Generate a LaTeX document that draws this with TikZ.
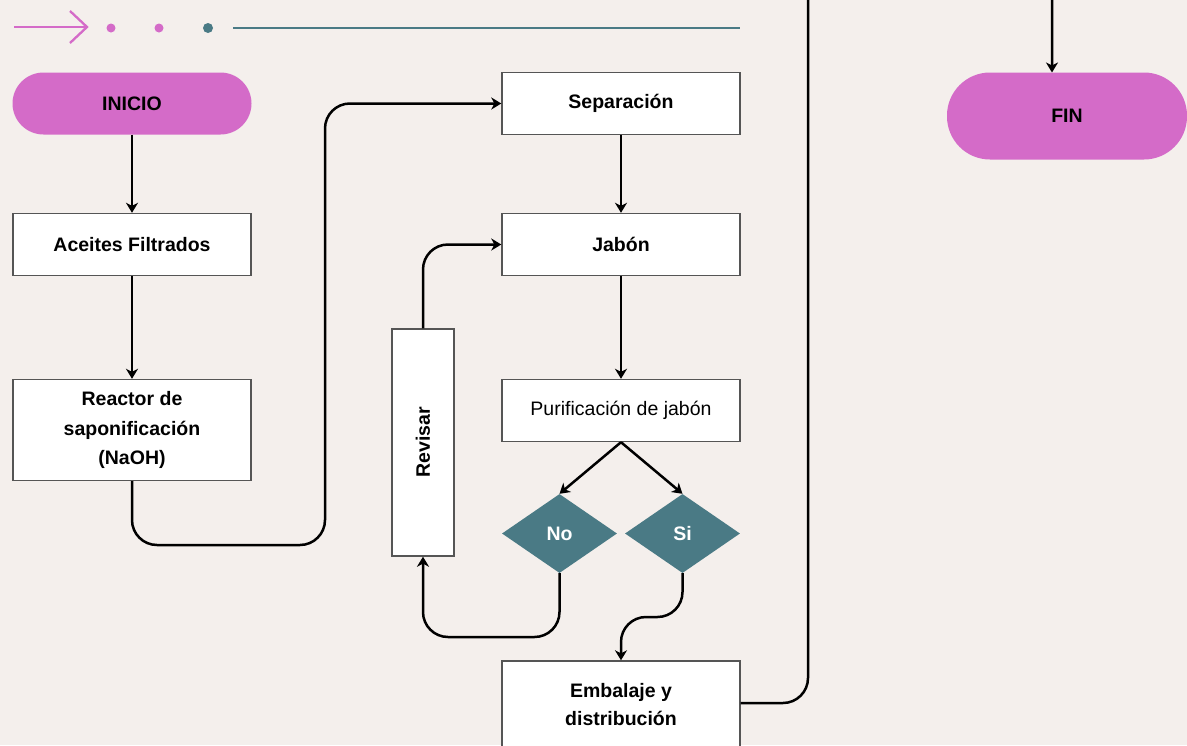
\documentclass[tikz,border=0pt]{standalone}
\usepackage{fontspec}
\setmainfont{Liberation Sans}
\usetikzlibrary{arrows.meta,shapes.geometric}
\definecolor{bg}{HTML}{F4EFEC}
\definecolor{pinkc}{HTML}{D46BC8}
\definecolor{tealc}{HTML}{4A7A85}
\definecolor{edgec}{HTML}{555555}
\tikzset{
  box/.style={draw=edgec, line width=1.4pt, fill=white, minimum width=238pt, minimum height=62pt,
    font=\bfseries\fontsize{19.5}{29.5}\selectfont, align=center, inner sep=0pt},
  pill/.style={fill=pinkc, rounded corners=31pt, minimum width=239pt, minimum height=62pt,
    font=\bfseries\fontsize{19.5}{29}\selectfont, inner sep=0pt},
  dia/.style={diamond, fill=tealc, minimum width=115pt, minimum height=79pt, aspect=1.456, inner sep=0pt,
    text=white, font=\bfseries\fontsize{19.5}{29}\selectfont},
  conn/.style={line width=2.5pt, draw=black, -{Stealth[length=10pt,width=12pt,inset=3pt]}, rounded corners=25pt},
  deco/.style={line width=2.3pt}
}
\begin{document}
\begin{tikzpicture}[x=1pt,y=-1pt]
\useasboundingbox (0,0) rectangle (1187,745);
\fill[bg] (0,0) rectangle (1187,745);
\clip (0,0) rectangle (1187,745);
% decoration
\draw[deco, pinkc] (14,27) -- (87,27);
\draw[deco, pinkc, line join=miter] (70,11) -- (87,27) -- (70,43);
\fill[pinkc] (111,28) circle (4.5);
\fill[pinkc] (159,28) circle (4.5);
\fill[tealc] (208,28) circle (5);
\draw[tealc, line width=2.8pt] (233,28) -- (740,28);
% nodes
\node[pill] (inicio) at (132,103.5) {INICIO};
\node[pill, minimum width=240pt, minimum height=87pt, rounded corners=43pt] (fin) at (1067,116) {FIN};
\node[box] (aceites) at (132,244.5) {Aceites Filtrados};
\node[box, minimum height=101pt] (reactor) at (132,430) {Reactor de\\saponificación\\(NaOH)};
\node[box] (sep) at (621,103.5) {Separación};
\node[box] (jabon) at (621,244.5) {Jabón};
\node[box, font=\fontsize{19.5}{29}\selectfont] (puri) at (621,410.5) {Purificación de jabón};
\node[box, minimum width=62pt, minimum height=227pt] (revisar) at (423,442.5) {};
\node[rotate=90, font=\bfseries\fontsize{19.5}{29}\selectfont] (revtxt) at (revisar.center) {Revisar};
\node[dia] (no) at (559.5,533.5) {No};
\node[dia] (si) at (682.5,533.5) {Si};
\node[box, minimum height=88pt, font=\bfseries\fontsize{19.5}{28}\selectfont] (emb) at (621,705) {Embalaje y\\distribución};
% bend coordinates
\coordinate (a1) at (132,545);
\coordinate (a2) at (325,545);
\coordinate (a3) at (325,103.5);
\coordinate (b1) at (559.5,637);
\coordinate (b2) at (423,637);
\coordinate (c1) at (423,244.5);
\coordinate (d1) at (682.5,617);
\coordinate (d2) at (621,617);
\coordinate (e1) at (808,703);
\coordinate (e2) at (808,-40);
\coordinate (e3) at (1052,-40);
\coordinate (finin) at (1052,72.5);
% connectors
\draw[conn] (inicio) -- (aceites);
\draw[conn] (aceites) -- (reactor);
\draw[conn] (reactor.south) -- (a1) -- (a2) -- (a3) -- (sep.west);
\draw[conn] (sep) -- (jabon);
\draw[conn] (jabon) -- (puri);
\draw[conn, rounded corners=0pt] (puri.south) -- (no.north);
\draw[conn, rounded corners=0pt] (puri.south) -- (si.north);
\draw[conn] (no.south) -- (b1) -- (b2) -- (revisar.south);
\draw[conn] (revisar.north) -- (c1) -- (jabon.west);
\draw[conn] (si.south) -- (d1) -- (d2) -- (emb.north);
\draw[conn] (emb.east |- e1) -- (e1) -- (e2) -- (e3) -- (finin);
\end{tikzpicture}
\end{document}
